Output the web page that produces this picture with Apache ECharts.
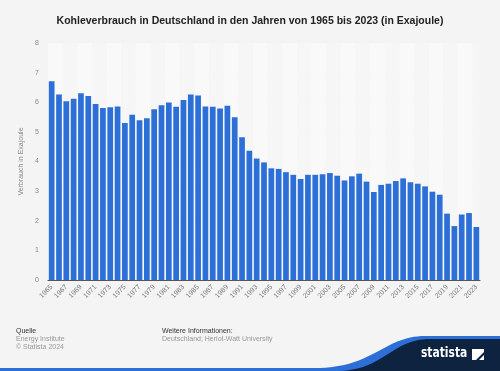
<!DOCTYPE html>
<html><head><meta charset="utf-8">
<script src="https://cdn.jsdelivr.net/npm/echarts@6/dist/echarts.min.js"></script>
<style>html,body{margin:0;padding:0;background:#f4f4f4;}#c{width:500px;height:371px;}</style>
</head><body><div id="c"></div>
<script>
const years = [];
for (let y = 1965; y <= 2023; y++) years.push(String(y));
const consumption = [6.71,6.26,6.03,6.12,6.30,6.21,5.94,5.81,5.83,5.86,
  5.30,5.58,5.39,5.46,5.76,5.90,5.99,5.85,6.08,6.26,
  6.23,5.86,5.85,5.79,5.88,5.49,4.82,4.36,4.10,3.97,
  3.77,3.75,3.64,3.55,3.41,3.55,3.55,3.57,3.61,3.52,
  3.36,3.50,3.59,3.32,2.97,3.21,3.25,3.34,3.43,3.30,
  3.25,3.16,2.98,2.88,2.24,1.82,2.21,2.26,1.79];
const yTicks = [0,1,2,3,4,5,6,7,8];
const titleText = 'Kohleverbrauch in Deutschland in den Jahren von 1965 bis 2023 (in Exajoule)';
const yAxisName = 'Verbrauch in Exajoule';

function bez(p0, p1, p2, p3, n) {
  const pts = [];
  for (let i = 0; i <= n; i++) {
    const t = i / n, u = 1 - t;
    pts.push([u*u*u*p0[0] + 3*u*u*t*p1[0] + 3*u*t*t*p2[0] + t*t*t*p3[0],
              u*u*u*p0[1] + 3*u*u*t*p1[1] + 3*u*t*t*p2[1] + t*t*t*p3[1]]);
  }
  return pts;
}
const blueWave = [[0,368]].concat(bez([320,368],[375,366],[385,336],[425,336],30)).concat([[500,336],[500,371],[0,371]]);
const navyWave = bez([340,371],[385,369],[392,339],[430,339],30).concat([[500,339],[500,371]]);

const chart = echarts.init(document.getElementById('c'), null, {renderer:'canvas'});
const font = 'Arial, "Liberation Sans", Helvetica, sans-serif';
chart.setOption({
  backgroundColor: '#f4f4f4',
  animation: false,
  textStyle: {fontFamily: font},
  title: {text: titleText, left: 'center', top: 11,
    textStyle: {fontSize: 10.5, fontWeight: 'bold', color: '#222', fontFamily: font}},
  grid: {left: 48, right: 20, top: 43, bottom: 91, containLabel: false},
  xAxis: {type: 'category', data: years,
    axisLine: {show: true, lineStyle: {color: '#555', width: 1}},
    axisTick: {show: false},
    axisLabel: {interval: 1, rotate: 45, fontSize: 7, color: '#777', margin: 6, fontFamily: font},
    splitArea: {show: true, interval: 1, areaStyle: {color: ['#f9f9f9', '#f6f6f6']}}
  },
  yAxis: {type: 'value', min: yTicks[0], max: yTicks[yTicks.length-1], interval: 1,
    name: yAxisName, nameLocation: 'middle', nameGap: 20,
    nameTextStyle: {fontSize: 7, color: '#888', fontFamily: font},
    axisLine: {show: false}, axisTick: {show: false},
    axisLabel: {fontSize: 7, color: '#888', margin: 11, align: 'center', fontFamily: font},
    splitLine: {lineStyle: {color: '#e4e4e4', width: 1}}
  },
  series: [{type: 'bar', data: consumption, barCategoryGap: '22%',
    itemStyle: {color: '#2c6fd7'}}],
  graphic: [
    {type: 'text', left: 16, top: 328, style: {text: 'Quelle', fontSize: 7, fill: '#333', fontFamily: font}},
    {type: 'text', left: 16, top: 336, style: {text: 'Energy Institute', fontSize: 7, fill: '#999', fontFamily: font}},
    {type: 'text', left: 16, top: 344, style: {text: '© Statista 2024', fontSize: 7, fill: '#999', fontFamily: font}},
    {type: 'text', left: 162, top: 328, style: {text: 'Weitere Informationen:', fontSize: 7, fill: '#333', fontFamily: font}},
    {type: 'text', left: 162, top: 336, style: {text: 'Deutschland; Heriot-Watt University', fontSize: 7, fill: '#999', fontFamily: font}},
    {type: 'polygon', shape: {points: blueWave}, style: {fill: '#2c6fd7'}},
    {type: 'polygon', shape: {points: navyWave}, style: {fill: '#0d2340'}},
    {type: 'text', x: 421, y: 346, scaleX: 0.85, style: {text: 'statista', fontSize: 14, fontWeight: 'bold', fill: '#ffffff', fontFamily: '"DejaVu Sans Condensed", Arial, sans-serif'}},
    {type: 'polygon', shape: {points: [[472,349],[484,349],[484,352],[476,360],[472,360]]}, style: {fill: '#ffffff'}},
    {type: 'polygon', shape: {points: [[484,355],[484,360],[479,360]]}, style: {fill: '#ffffff'}}
  ]
});
</script></body></html>
